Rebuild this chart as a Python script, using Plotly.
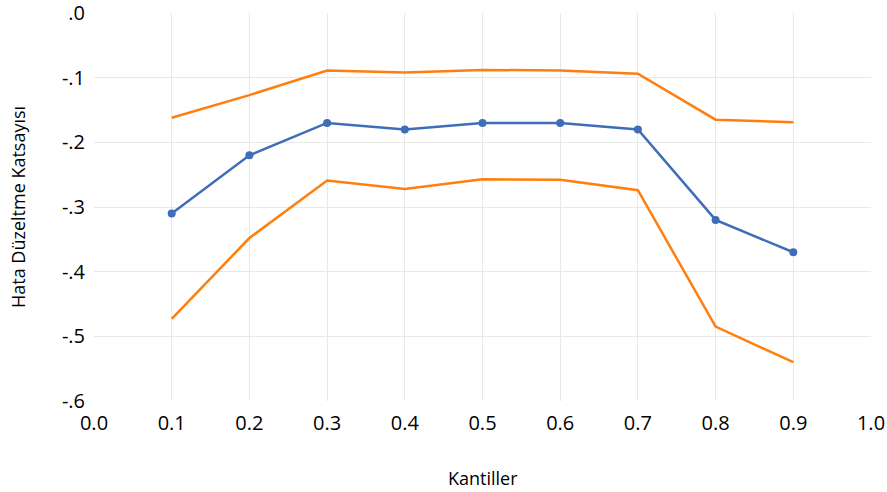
import plotly.graph_objects as go

quantiles = [0.1, 0.2, 0.3, 0.4, 0.5, 0.6, 0.7, 0.8, 0.9]
coef = [-0.310, -0.220, -0.170, -0.180, -0.170, -0.170, -0.180, -0.320, -0.370]
upper = [-0.162, -0.127, -0.089, -0.092, -0.088, -0.089, -0.094, -0.165, -0.169]
lower = [-0.473, -0.348, -0.259, -0.272, -0.257, -0.258, -0.274, -0.485, -0.540]

x_ticks = [0.0, 0.1, 0.2, 0.3, 0.4, 0.5, 0.6, 0.7, 0.8, 0.9, 1.0]
x_ticktext = ["0.0", "0.1", "0.2", "0.3", "0.4", "0.5", "0.6", "0.7", "0.8", "0.9", "1.0"]
y_ticks = [0.0, -0.1, -0.2, -0.3, -0.4, -0.5, -0.6]
y_ticktext = [".0", "-.1", "-.2", "-.3", "-.4", "-.5", "-.6"]
x_title = "Kantiller"
y_title = "Hata Düzeltme Katsayısı"

BLUE = "#3F6DBA"
ORANGE = "#FF7F0E"
GRID = "#E8E8E8"
FONT = "Open Sans"

fig = go.Figure()
fig.add_trace(go.Scatter(x=quantiles, y=upper, mode="lines",
                         line=dict(color=ORANGE, width=2.5), showlegend=False))
fig.add_trace(go.Scatter(x=quantiles, y=lower, mode="lines",
                         line=dict(color=ORANGE, width=2.5), showlegend=False))
fig.add_trace(go.Scatter(x=quantiles, y=coef, mode="lines+markers",
                         line=dict(color=BLUE, width=2.5),
                         marker=dict(color=BLUE, size=8), showlegend=False))

fig.update_layout(
    width=887, height=492,
    margin=dict(l=94, r=16, t=13, b=91),
    paper_bgcolor="white", plot_bgcolor="white",
    font=dict(family=FONT, color="#000000"),
    xaxis=dict(
        range=[0, 1], tickmode="array", tickvals=x_ticks, ticktext=x_ticktext,
        automargin=False, ticklabeloverflow="allow",
        showgrid=False, zeroline=False, showline=False, ticks="",
        ticklabelstandoff=8,
        tickfont=dict(size=20, family=FONT),
        minor=dict(tickmode="array", tickvals=quantiles, showgrid=True,
                   gridcolor=GRID, gridwidth=1, ticks=""),
    ),
    yaxis=dict(
        range=[-0.6, 0], tickmode="array", tickvals=y_ticks, ticktext=y_ticktext,
        automargin=False, ticklabeloverflow="allow",
        showgrid=False, zeroline=False, showline=False, ticks="",
        ticklabelstandoff=8,
        tickfont=dict(size=20, family=FONT),
        minor=dict(tickmode="array", tickvals=[-0.1, -0.2, -0.3, -0.4, -0.5],
                   showgrid=True, gridcolor=GRID, gridwidth=1, ticks=""),
    ),
    annotations=[
        dict(text=x_title, xref="paper", yref="paper", x=0.5, y=0,
             xanchor="center", yanchor="middle", yshift=-77, showarrow=False,
             font=dict(size=18, family=FONT)),
        dict(text=y_title, xref="paper", yref="paper", x=0, y=0.5,
             xanchor="center", yanchor="middle", xshift=-76, textangle=-90,
             showarrow=False, font=dict(size=18, family=FONT)),
    ],
)

fig.write_html("out.html", config={"displayModeBar": False},
               post_script="document.body.style.margin='0';document.body.style.overflow='hidden';")
